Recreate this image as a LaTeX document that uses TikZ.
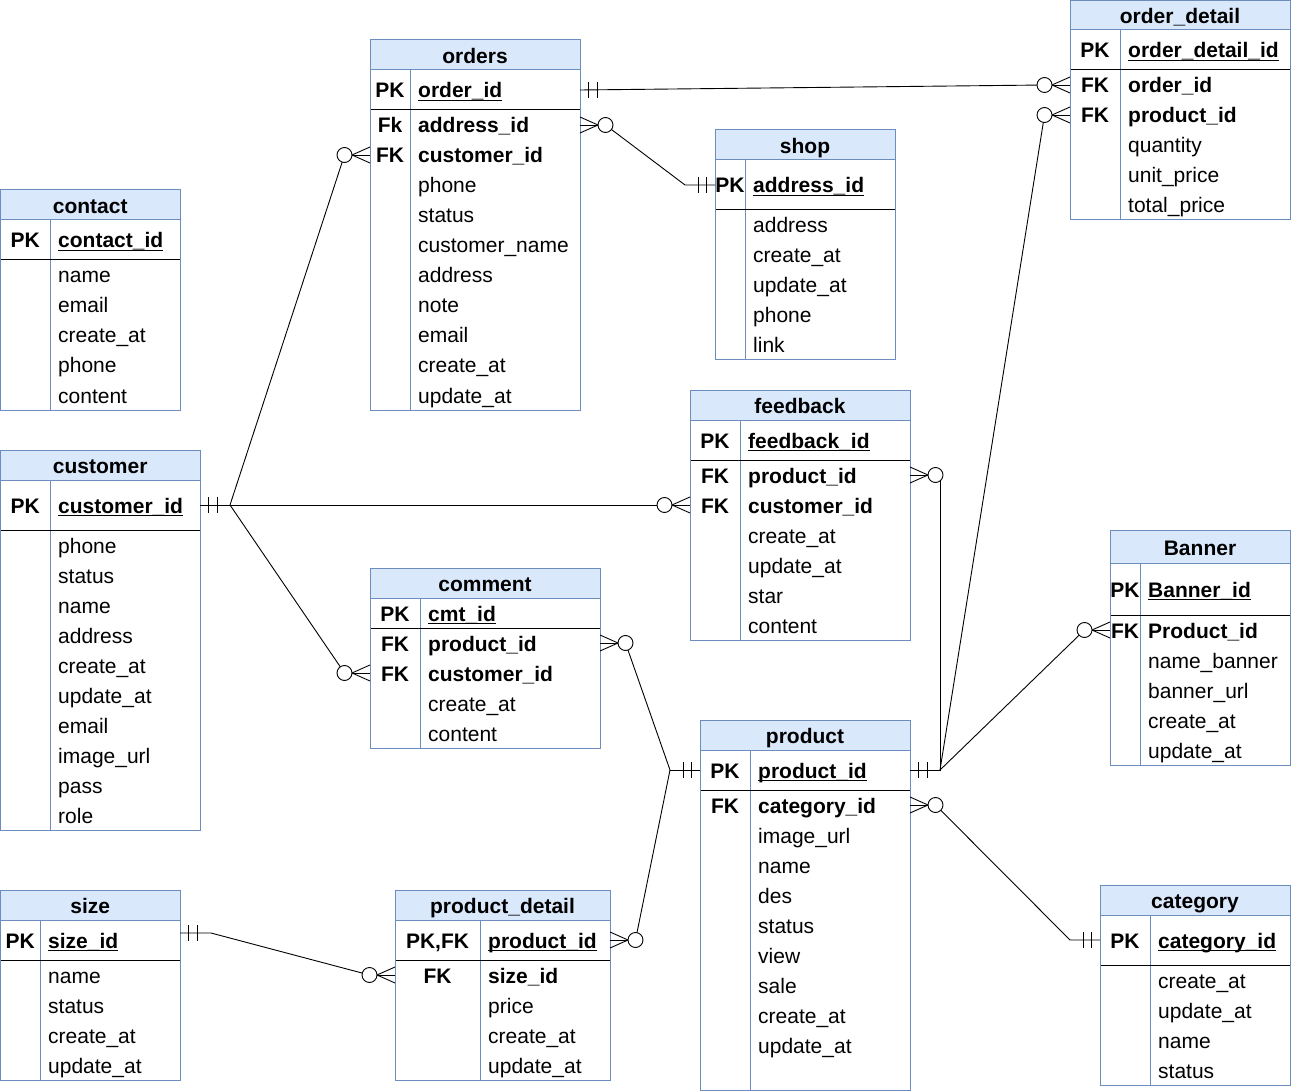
\documentclass[tikz,border=0pt]{standalone}
\usepackage{fontspec}
\setmainfont{Liberation Sans}
\newcount\rowc
\definecolor{hdrfill}{HTML}{DAE8FC}
\definecolor{hdrline}{HTML}{6C8EBF}
\tikzset{
  bord/.style={draw=hdrline, line width=1pt},
  sepl/.style={draw=black, line width=1pt},
  ttl/.style={font=\fontsize{21}{25}\selectfont\bfseries, inner sep=0pt, anchor=base},
  keyt/.style={font=\fontsize{21}{25}\selectfont\bfseries, inner sep=0pt, anchor=base},
  fb/.style={font=\fontsize{21}{25}\selectfont\bfseries, inner sep=0pt, anchor=base west},
  fn/.style={font=\fontsize{21}{25}\selectfont, inner sep=0pt, anchor=base west},
  rowbox/.style={inner sep=0pt, outer sep=0pt, draw=none, minimum height=30},
  conn/.style={draw=black, line width=0.9pt},
}
% #1 prefix #2 x #3 y #4 w #5 divider #6 title h #7 pk h #8 bottom #9 title
\newcommand\tbl[9]{%
  \def\tN{#1}\def\tX{#2}\def\tY{#3}\def\tW{#4}\def\tD{#5}\def\tT{#6}\def\tP{#7}%
  \global\rowc=0
  \fill[hdrfill] (#2,#3) rectangle (#2+#4,#3+#6);
  \draw[bord] (#2+#5,#3+#6) -- (#2+#5,#8);
  \draw[sepl] (#2,#3+#6+#7) -- (#2+#4,#3+#6+#7);
  \draw[bord] (#2,#3+#6) -- (#2+#4,#3+#6);
  \draw[bord] (#2,#3) rectangle (#2+#4,#8);
  \node[ttl] (#1) at (#2+#4/2,#3+#6/2+8.5) {#9};
}
\newcommand\pkrow[2]{%
  \node[rowbox, minimum width=\tW, minimum height=\tP, anchor=north west] (\tN-pk) at (\tX,\tY+\tT) {};
  \node[keyt] (\tN-pk-k) at (\tX+\tD/2,\tY+\tT+\tP/2+8) {#1};
  \node[fb] (\tN-pk-f) at (\tX+\tD+8,\tY+\tT+\tP/2+8) {#2};
  \draw[line width=1.5pt] ([yshift=-2.5pt]\tN-pk-f.base west) -- ([yshift=-2.5pt]\tN-pk-f.base east);
}
\newcommand\frow[3]{%
  \global\advance\rowc by 1
  \edef\rn{\tN-\the\rowc}%
  \pgfmathsetmacro\ry{\tY+\tT+\tP+30*\the\rowc-15}%
  \node[rowbox, minimum width=\tW] (\rn) at (\tX+\tW/2,\ry) {};
  \node[keyt] (\rn-k) at (\tX+\tD/2,\ry+8) {#1};
  \node[#3] (\rn-f) at (\tX+\tD+8,\ry+8) {#2};
}
\newcommand\one[2]{%
  \draw[conn] ([xshift=#2*8.5pt,yshift=8pt]#1) -- ([xshift=#2*8.5pt,yshift=-8pt]#1);
  \draw[conn] ([xshift=#2*17pt,yshift=8pt]#1) -- ([xshift=#2*17pt,yshift=-8pt]#1);
}
\newcommand\many[2]{%
  \draw[conn] ([yshift=8pt]#1) -- ([xshift=#2*18pt]#1) -- ([yshift=-8pt]#1);
  \draw[conn] (#1) -- ([xshift=#2*18pt]#1);
  \draw[conn, fill=white] ([xshift=#2*25.5pt]#1) circle (7.5pt);
}
\begin{document}
\begin{tikzpicture}[x=1pt,y=-1pt]
\useasboundingbox (0,0) rectangle (1291,1091);

% contact
\tbl{contact}{0.5}{190}{179.5}{49.5}{30}{40}{410}{contact}
\pkrow{PK}{contact\_id}
\frow{}{name}{fn}
\frow{}{email}{fn}
\frow{}{create\_at}{fn}
\frow{}{phone}{fn}
\frow{}{content}{fn}

% customer
\tbl{cust}{0.5}{450}{199.5}{49.5}{30}{50}{830}{customer}
\pkrow{PK}{customer\_id}
\frow{}{phone}{fn}
\frow{}{status}{fn}
\frow{}{name}{fn}
\frow{}{address}{fn}
\frow{}{create\_at}{fn}
\frow{}{update\_at}{fn}
\frow{}{email}{fn}
\frow{}{image\_url}{fn}
\frow{}{pass}{fn}
\frow{}{role}{fn}

% orders
\tbl{orders}{370}{40}{210}{40}{30}{40}{410}{orders}
\pkrow{PK}{order\_id}
\frow{Fk}{address\_id}{fb}
\frow{FK}{customer\_id}{fb}
\frow{}{phone}{fn}
\frow{}{status}{fn}
\frow{}{customer\_name}{fn}
\frow{}{address}{fn}
\frow{}{note}{fn}
\frow{}{email}{fn}
\frow{}{create\_at}{fn}
\frow{}{update\_at}{fn}

% shop
\tbl{shop}{715}{130}{180}{30}{30}{50}{360}{shop}
\pkrow{PK}{address\_id}
\frow{}{address}{fn}
\frow{}{create\_at}{fn}
\frow{}{update\_at}{fn}
\frow{}{phone}{fn}
\frow{}{link}{fn}

% order_detail
\tbl{od}{1070}{0.5}{220}{50}{29.5}{40}{220}{order\_detail}
\pkrow{PK}{order\_detail\_id}
\frow{FK}{order\_id}{fb}
\frow{FK}{product\_id}{fb}
\frow{}{quantity}{fn}
\frow{}{unit\_price}{fn}
\frow{}{total\_price}{fn}

% feedback
\tbl{fb}{690}{390}{220}{50}{30}{40}{640}{feedback}
\pkrow{PK}{feedback\_id}
\frow{FK}{product\_id}{fb}
\frow{FK}{customer\_id}{fb}
\frow{}{create\_at}{fn}
\frow{}{update\_at}{fn}
\frow{}{star}{fn}
\frow{}{content}{fn}

% comment
\tbl{cmt}{370}{568}{230}{50}{30}{30}{748}{comment}
\pkrow{PK}{cmt\_id}
\frow{FK}{product\_id}{fb}
\frow{FK}{customer\_id}{fb}
\frow{}{create\_at}{fn}
\frow{}{content}{fn}

% Banner
\tbl{ban}{1110}{530}{180}{30}{33}{52}{765}{Banner}
\pkrow{PK}{Banner\_id}
\frow{FK}{Product\_id}{fb}
\frow{}{name\_banner}{fn}
\frow{}{banner\_url}{fn}
\frow{}{create\_at}{fn}
\frow{}{update\_at}{fn}

% product
\tbl{prod}{700}{720}{210}{50}{30}{40}{1090}{product}
\pkrow{PK}{product\_id}
\frow{FK}{category\_id}{fb}
\frow{}{image\_url}{fn}
\frow{}{name}{fn}
\frow{}{des}{fn}
\frow{}{status}{fn}
\frow{}{view}{fn}
\frow{}{sale}{fn}
\frow{}{create\_at}{fn}
\frow{}{update\_at}{fn}

% category
\tbl{cat}{1100}{885}{190}{50}{30}{50}{1085}{category}
\pkrow{PK}{category\_id}
\frow{}{create\_at}{fn}
\frow{}{update\_at}{fn}
\frow{}{name}{fn}
\frow{}{status}{fn}

% size
\tbl{size}{0.5}{890}{179.5}{39.5}{30}{40}{1080}{size}
\pkrow{PK}{size\_id}
\frow{}{name}{fn}
\frow{}{status}{fn}
\frow{}{create\_at}{fn}
\frow{}{update\_at}{fn}

% product_detail
\tbl{pd}{395}{890}{215}{85}{30}{40}{1080}{product\_detail}
\pkrow{PK,FK}{product\_id}
\frow{FK}{size\_id}{fb}
\frow{}{price}{fn}
\frow{}{create\_at}{fn}
\frow{}{update\_at}{fn}

% circle centres, bends and junctions
\coordinate (c-od1) at ([xshift=-25.5pt]od-1.west);
\coordinate (c-ord1) at ([xshift=25.5pt]orders-1.east);
\coordinate (c-ord2) at ([xshift=-25.5pt]orders-2.west);
\coordinate (c-fb2) at ([xshift=-25.5pt]fb-2.west);
\coordinate (c-fb1) at ([xshift=25.5pt]fb-1.east);
\coordinate (c-cmt2) at ([xshift=-25.5pt]cmt-2.west);
\coordinate (c-cmt1) at ([xshift=25.5pt]cmt-1.east);
\coordinate (c-od2) at ([xshift=-25.5pt]od-2.west);
\coordinate (c-ban1) at ([xshift=-25.5pt]ban-1.west);
\coordinate (c-prod1) at ([xshift=25.5pt]prod-1.east);
\coordinate (c-pd1) at ([xshift=-25.5pt]pd-1.west);
\coordinate (c-pdpk) at ([xshift=25.5pt]pd-pk.east);
\coordinate (j-cust) at ([xshift=30pt]cust-pk.east);
\coordinate (j-prodR) at ([xshift=30pt]prod-pk.east);
\coordinate (j-prodL) at ([xshift=-30pt]prod-pk.west);
\coordinate (b-shop) at ([xshift=-30pt]shop-pk.west);
\coordinate (b-cat) at ([xshift=-30pt]cat-pk.west);
\coordinate (size-a) at ([yshift=7pt]size-pk.east);
\coordinate (b-size) at ([xshift=31pt]size-a);

% connector lines
\draw[conn] (orders-pk.east) -- (c-od1);
\draw[conn] (c-ord1) -- (b-shop) -- (shop-pk.west);
\draw[conn] (cust-pk.east) -- (j-cust);
\draw[conn] (j-cust) -- (c-ord2);
\draw[conn] (j-cust) -- (c-fb2);
\draw[conn] (j-cust) -- (c-cmt2);
\draw[conn] (prod-pk.east) -- (j-prodR) -- (j-prodR |- c-fb1);
\draw[conn] (j-prodR) -- (c-od2);
\draw[conn] (j-prodR) -- (c-ban1);
\draw[conn] (prod-pk.west) -- (j-prodL);
\draw[conn] (j-prodL) -- (c-cmt1);
\draw[conn] (j-prodL) -- (c-pdpk);
\draw[conn] (c-prod1) -- (b-cat) -- (cat-pk.west);
\draw[conn] (size-a) -- (b-size) -- (c-pd1);

% one-and-only-one marks
\one{orders-pk.east}{1}
\one{shop-pk.west}{-1}
\one{cust-pk.east}{1}
\one{prod-pk.east}{1}
\one{prod-pk.west}{-1}
\one{cat-pk.west}{-1}
\one{size-a}{1}

% zero-or-many marks
\many{od-1.west}{-1}
\many{orders-1.east}{1}
\many{orders-2.west}{-1}
\many{fb-2.west}{-1}
\many{fb-1.east}{1}
\many{cmt-2.west}{-1}
\many{cmt-1.east}{1}
\many{od-2.west}{-1}
\many{ban-1.west}{-1}
\many{prod-1.east}{1}
\many{pd-1.west}{-1}
\many{pd-pk.east}{1}
\end{tikzpicture}
\end{document}
